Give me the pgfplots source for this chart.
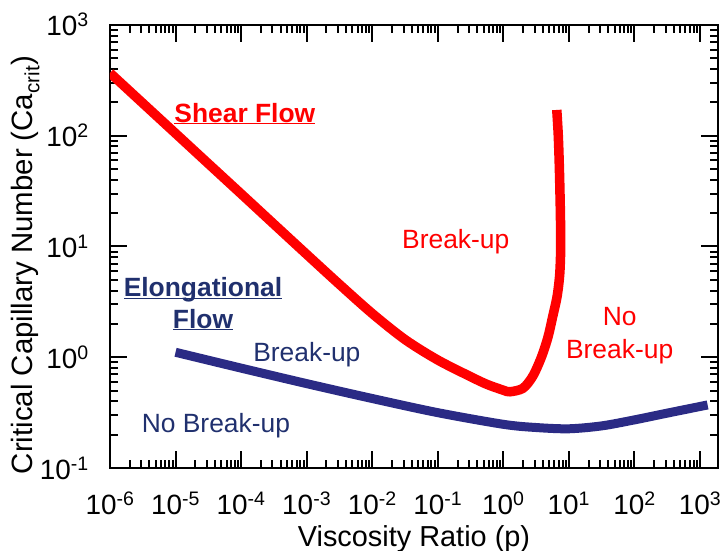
\documentclass[border=0pt]{standalone}
\usepackage{fontspec}
\setmainfont{Liberation Sans}
\usepackage{pgfplots}
\pgfplotsset{compat=1.18}
\definecolor{sred}{RGB}{255,0,0}
\definecolor{eblue}{RGB}{43,43,133}
\definecolor{tblue}{RGB}{32,48,110}
\begin{document}
\begin{tikzpicture}
\begin{axis}[name=ax, xmode=log, ymode=log, scale only axis, width=608bp, height=443bp,
  xmin=1e-6, xmax=1880, ymin=0.1, ymax=1000,
  xtick={1e-6,1e-5,1e-4,1e-3,1e-2,1e-1,1,10,100,1000},
  xticklabels={10\textsuperscript{-6},10\textsuperscript{-5},10\textsuperscript{-4},10\textsuperscript{-3},10\textsuperscript{-2},10\textsuperscript{-1},10\textsuperscript{0},10\textsuperscript{1},10\textsuperscript{2},10\textsuperscript{3}},
  ytick={0.1,1,10,100,1000},
  yticklabels={10\textsuperscript{-1},10\textsuperscript{0},10\textsuperscript{1},10\textsuperscript{2},10\textsuperscript{3}},
  axis line style={line width=2.8bp},
  major tick length=17bp, minor tick length=8bp,
  every tick/.style={black, line width=2bp},
  tick align=inside,
  xticklabel style={font=\fontsize{28}{30}\selectfont, anchor=base, inner sep=0pt, yshift=-46bp},
  yticklabel style={font=\fontsize{28}{30}\selectfont, anchor=base east, inner sep=0pt, xshift=-21bp, yshift=-11bp},
  xlabel={Viscosity Ratio (p)},
  xlabel style={font=\fontsize{29}{31}\selectfont, at={(axis description cs:0.5,-0.160)}, anchor=center},
]
\addplot[sred, line width=9.5bp, smooth, tension=0.5, line cap=butt] coordinates {
(1e-6,369) (3.162e-6,196.8) (1e-5,105) (3.162e-5,55.98) (1e-4,29.9) (3.162e-4,15.92)
(1e-3,8.49) (3.162e-3,4.55) (0.01,2.483) (0.03162,1.445) (0.1,0.944) (0.3162,0.668)
(0.5623,0.569) (1,0.504) (1.259,0.488)
(1.995,0.525) (2.818,0.676) (3.802,1.0) (4.786,1.514) (5.623,2.291) (6.607,3.548)
(7.244,5.623) (7.499,10) (7.413,19.95) (7.161,50.1) (6.887,100) (6.531,171)
};
\addplot[eblue, line width=9bp, smooth, tension=0.5, line cap=butt] coordinates {
(1e-5,1.109) (1e-4,0.798) (1e-3,0.578) (1e-2,0.424) (0.1,0.316) (1,0.248)
(3.162,0.232) (10,0.226) (31.62,0.240) (100,0.272) (316.2,0.313) (1306,0.371)
};
\node[sred, anchor=base, font=\fontsize{26.5}{28}\selectfont\bfseries] at (axis cs:1.14e-4,133) {\underline{Shear Flow}};
\node[tblue, anchor=base, font=\fontsize{26.5}{28}\selectfont\bfseries] at (axis cs:2.62e-5,3.50) {\underline{Elon\smash{g}ational}};
\node[tblue, anchor=base, font=\fontsize{26.5}{28}\selectfont\bfseries] at (axis cs:2.62e-5,1.836) {\underline{Flow}};
\node[sred, anchor=base, font=\fontsize{26.5}{28}\selectfont] at (axis cs:0.188,9.69) {Break-up};
\node[sred, anchor=base, font=\fontsize{26.5}{28}\selectfont] at (axis cs:59.4,1.954) {No};
\node[sred, anchor=base, font=\fontsize{26.5}{28}\selectfont] at (axis cs:59.4,0.984) {Break-up};
\node[tblue, anchor=base, font=\fontsize{26.5}{28}\selectfont] at (axis cs:1.007e-3,0.906) {Break-up};
\node[tblue, anchor=base, font=\fontsize{26.5}{28}\selectfont] at (axis cs:4.13e-5,0.211) {No Break-up};
\end{axis}
\node[rotate=90, anchor=base, inner sep=0pt, font=\fontsize{29.5}{31}\selectfont] at ([shift={(-77bp,-18.5bp)}]ax.west) {Critical Capillary Number (Ca\textsubscript{crit})};
\pgfresetboundingbox
\path ([shift={(-110bp,-83bp)}]ax.south west) rectangle ([shift={(5bp,25bp)}]ax.north east);
\end{tikzpicture}
\end{document}
